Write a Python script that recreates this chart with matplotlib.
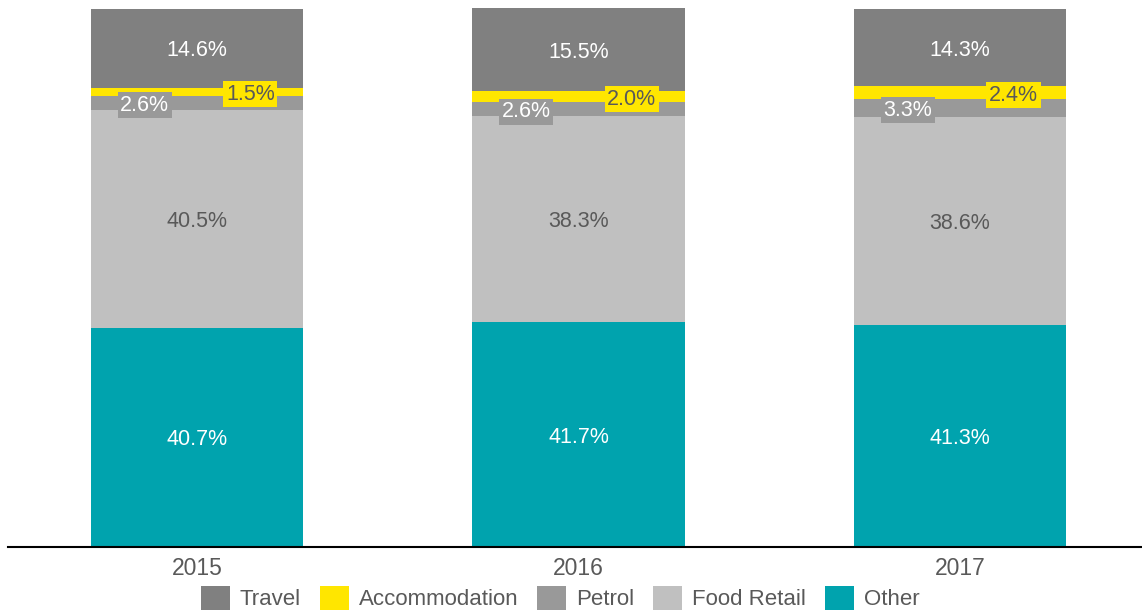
import matplotlib
matplotlib.use("Agg")
import matplotlib.pyplot as plt
import numpy as np

years = ["2015", "2016", "2017"]
series_names = ["Other", "Food Retail", "Petrol", "Accommodation", "Travel"]
other = [40.7, 41.7, 41.3]
food_retail = [40.5, 38.3, 38.6]
petrol = [2.6, 2.6, 3.3]
accommodation = [1.5, 2.0, 2.4]
travel = [14.6, 15.5, 14.3]

colors = {"Other": "#00A3AE", "Food Retail": "#C0C0C0", "Petrol": "#999999",
          "Accommodation": "#FFE600", "Travel": "#808080"}
text_colors = {"Other": "white", "Food Retail": "#595959", "Petrol": "white",
               "Accommodation": "#595959", "Travel": "white"}

plt.rcParams['font.family'] = ['Liberation Sans', 'DejaVu Sans']

fig = plt.figure(figsize=(11.42, 6.12), dpi=100)
ax = fig.add_axes([8/1142, 1-547/612, 1-8/1142, (547-8)/612])

data = {"Other": other, "Food Retail": food_retail, "Petrol": petrol,
        "Accommodation": accommodation, "Travel": travel}
x = np.arange(len(years))
width = 0.556
fs = 15.5
bottom = np.zeros(len(years))
bars = {}
for name in series_names:
    vals = np.array(data[name])
    bars[name] = ax.bar(x, vals, width, bottom=bottom, color=colors[name], label=name)
    for i, v in enumerate(vals):
        yc = bottom[i] + v / 2
        label = f"{v:.1f}%"
        if name in ("Petrol", "Accommodation"):
            dx = -0.137 if name == "Petrol" else 0.14
            ax.text(x[i] + dx, yc, label, ha="center", va="center_baseline", fontsize=fs,
                    color=text_colors[name],
                    bbox=dict(boxstyle="square,pad=0.12", fc=colors[name], ec="none"))
        else:
            ax.text(x[i], yc, label, ha="center", va="center_baseline", fontsize=fs,
                    color=text_colors[name])
    bottom = bottom + vals

ax.set_xlim(-0.4954, 2.477)
ax.set_ylim(0, 100.1)
ax.set_xticks(x)
ax.set_xticklabels(years, fontsize=16.5, color="#595959")
ax.tick_params(axis="x", length=0, pad=7)
ax.set_yticks([])
for s in ["top", "right", "left"]:
    ax.spines[s].set_visible(False)
ax.spines["bottom"].set_color("black")
ax.spines["bottom"].set_linewidth(1.5)

order = ["Travel", "Accommodation", "Petrol", "Food Retail", "Other"]
handles = [bars[n] for n in order]
leg = fig.legend(handles, order, loc="center", bbox_to_anchor=(560/1142, 1-598/612),
                 ncol=5, frameon=False, fontsize=16, handlelength=1.3, handleheight=1.3,
                 handletextpad=0.45, columnspacing=0.85, borderpad=0.1)
for t in leg.get_texts():
    t.set_color("#595959")

fig.savefig("out.png", dpi=100)
